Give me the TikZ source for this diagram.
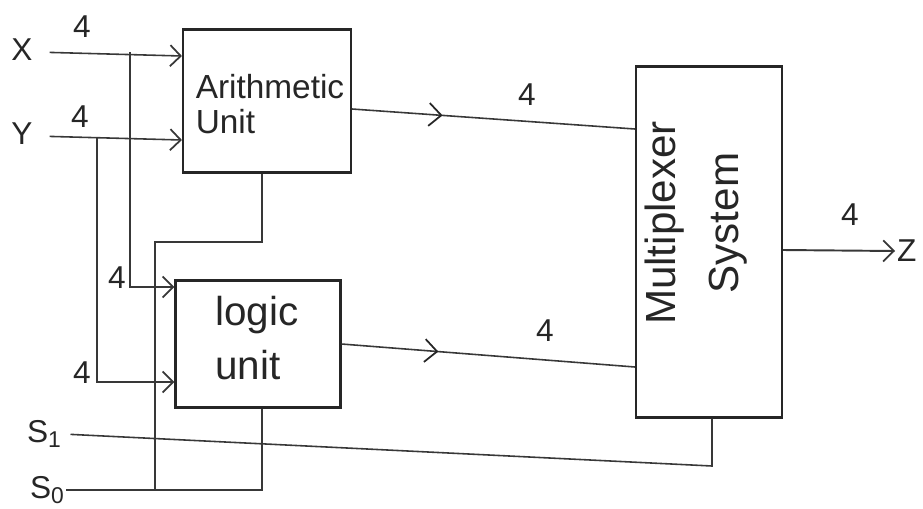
\documentclass[tikz,border=0pt]{standalone}
\usepackage{fontspec}
\setmainfont{Liberation Sans}
\usetikzlibrary{arrows.meta,decorations.markings}
\newcommand{\selsub}[1]{\raisebox{-3pt}{\fontsize{13}{13}\selectfont #1}}
\begin{document}
\begin{tikzpicture}[x=0.02cm,y=-0.02cm,
  wire/.style={draw=black!78, line width=0.9pt},
  blk/.style={draw=black!85, line width=1.2pt, rectangle, inner sep=0pt, anchor=center},
  lbl/.style={font=\fontsize{18}{20}\selectfont, inner sep=1pt, text=black!85},
  tip/.style={-{Straight Barb[length=6pt,width=12pt,line width=1pt]}},
  midtip/.style={postaction={decorate}, decoration={markings,
     mark=at position #1 with {\arrow[black!85]{Straight Barb[length=7pt,width=13pt,line width=1pt]}}}}
]
\useasboundingbox (0,0) rectangle (923,508);

% blocks
\node[blk, minimum width=3.36cm, minimum height=2.86cm] (arith) at (267,101) {};
\node[lbl, font=\fontsize{19}{20}\selectfont, align=left] (arithtxt) at (270,104) {Arithmetic\\Unit};
\node[blk, minimum width=3.3cm, minimum height=2.54cm] (logic) at (258,344) {};
\node[lbl, font=\fontsize{23}{31}\selectfont, align=left] (logictxt) at (257,338) {logic\\unit};
\node[blk, minimum width=2.92cm, minimum height=7.02cm] (mux) at (709,242) {};
\node[lbl, font=\fontsize{24}{36}\selectfont, align=center, rotate=90] (muxtxt) at (696,223) {Multiplexer\\System};

% input labels
\node[lbl] (X) at (22,50) {X};
\node[lbl] (Y) at (22,134) {Y};
\node[lbl] (S1) at (44,434) {S\selsub{1}};
\node[lbl] (S0) at (47,490) {S\selsub{0}};
\node[lbl, anchor=west] (Z) at (895,251) {Z};

% bus width labels
\node[lbl] (n1) at (82,27) {4};
\node[lbl] (n2) at (80,117) {4};
\node[lbl] (n3) at (117,278) {4};
\node[lbl] (n4) at (82,373) {4};
\node[lbl] (n5) at (527,95) {4};
\node[lbl] (n6) at (545,331) {4};
\node[lbl] (n7) at (850,215) {4};

% junction coordinates
\coordinate (xj) at (130,52);
\coordinate (yj) at (97,137);
\coordinate (s0a) at (155,490);
\coordinate (s0b) at (262,490);
\coordinate (ac) at (262,242);
\coordinate (s1c) at (712,466);

% data inputs
\draw[wire,tip,shorten <=0.3cm] (X.east |- 0,52) -- (arith.west |- 0,56);
\draw[wire,tip,shorten <=0.3cm] (Y.east |- 0,136) -- (arith.west |- 0,140);
\draw[wire,tip] (xj) |- (logic.west |- 0,287);
\draw[wire,tip] (yj) |- (logic.west |- 0,382);

% select lines
\draw[wire] (S0.east) -- (s0b) -- (s0b |- logic.south);
\draw[wire] (s0a) |- (ac) -- (ac |- arith.south);
\draw[wire,shorten <=0.15cm] (S1.east) -- (s1c) -- (s1c |- mux.south);

% outputs to mux
\draw[wire,midtip=0.32] (arith.east |- 0,109) -- (mux.west |- 0,129);
\draw[wire,midtip=0.33] (logic.east |- 0,344) -- (mux.west |- 0,367);
\draw[wire,tip,line width=1.1pt] (mux.east |- 0,250) -- (Z.west);
\end{tikzpicture}
\end{document}
